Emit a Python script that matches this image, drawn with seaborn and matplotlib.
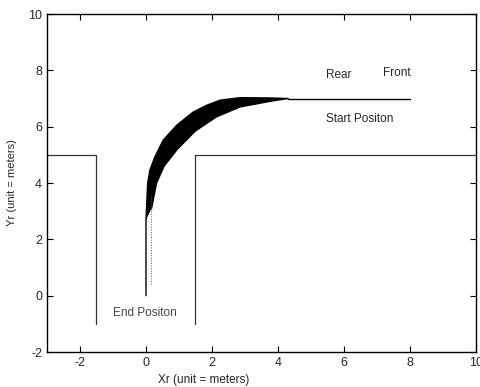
import numpy as np
import pandas as pd
import matplotlib
matplotlib.use('Agg')
import matplotlib.pyplot as plt
import seaborn as sns

# road boundary (two pieces: left wall and right wall of the slot)
left_x = [-3, -1.5, -1.5]
left_y = [5, 5, -1]
right_x = [1.5, 1.5, 10]
right_y = [-1, 5, 5]

# outer edge of the swept band (rear side)
outer_x = [0.0, 0.0, 0.05, 0.12, 0.27, 0.52, 0.93, 1.43, 1.84, 2.24, 2.85, 3.76, 4.3]
outer_y = [0.0, 2.69, 4.0, 4.46, 4.93, 5.52, 6.05, 6.52, 6.76, 6.94, 7.03, 7.02, 7.0]
# inner edge of the band (front side)
inner_x = [0.17, 0.32, 0.55, 0.95, 1.5, 2.14, 2.85, 3.76, 4.3]
inner_y = [3.1, 4.0, 4.6, 5.2, 5.85, 6.35, 6.7, 6.9, 7.0]
# start position segment
start_x = [4.3, 8.0]
start_y = [7.0, 7.0]
# faint dotted trace near the end
trace_x = [0.14, 0.14]
trace_y = [0.4, 3.6]

sns.set_style('white')
plt.rcParams['font.family'] = ['Liberation Sans', 'DejaVu Sans']
plt.rcParams['axes.unicode_minus'] = False

fig = plt.figure(figsize=(4.81, 3.87), dpi=100)
ax = fig.add_axes([0.0977, 0.0904, 0.8919, 0.8734])

def line(xs, ys, **kw):
    d = pd.DataFrame({'x': xs, 'y': ys})
    sns.lineplot(data=d, x='x', y='y', sort=False, estimator=None, ax=ax, **kw)

line(left_x, left_y, color='#333333', lw=0.9)
line(right_x, right_y, color='#333333', lw=0.9)

# band polygon: outer edge down, inner edge back up
band_x = outer_x[1:] + inner_x[::-1]
band_y = outer_y[1:] + inner_y[::-1]
ax.fill(band_x, band_y, color='black', lw=0)
line(outer_x, outer_y, color='black', lw=1.0)
line(inner_x, inner_y, color='black', lw=1.0)
line(start_x, start_y, color='black', lw=1.0)
line(trace_x, trace_y, color='#555555', lw=0.7, linestyle=':')

ax.text(5.45, 7.82, 'Rear', fontsize=8.5, va='center')
ax.text(7.18, 7.9, 'Front', fontsize=8.5, va='center')
ax.text(5.45, 6.27, 'Start Positon', fontsize=8.5, va='center')
ax.text(-1.0, -0.6, 'End Positon', fontsize=8.5, va='center', color='#444444')

ax.set_xlim(-3, 10)
ax.set_ylim(-2, 10)
ax.set_xticks([-2, 0, 2, 4, 6, 8, 10])
ax.set_yticks([-2, 0, 2, 4, 6, 8, 10])
ax.tick_params(direction='in', length=4, top=True, right=True, labelsize=9,
               bottom=True, left=True, width=0.8, color='black')
for s in ax.spines.values():
    s.set_color('black')
    s.set_linewidth(1.0)

ax.set_xlabel('Xr (unit = meters)', fontsize=8.5)
ax.set_ylabel('Yr (unit = meters)', fontsize=8)
ax.xaxis.set_label_coords(0.366, -0.065)
ax.yaxis.set_label_coords(-0.07, 0.5)

fig.savefig('out.png', dpi=100)
